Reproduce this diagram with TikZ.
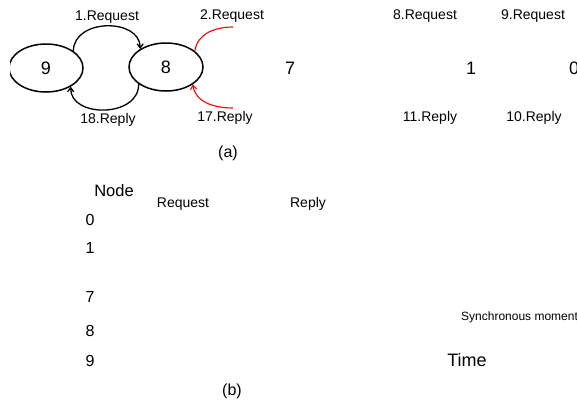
\documentclass[tikz,border=0pt]{standalone}
\usepackage{fontspec}
\setmainfont{Liberation Sans}
\usetikzlibrary{shapes.geometric,arrows.meta}

\tikzset{
  lbl/.style={inner sep=0pt, font=\fontsize{14}{16}\selectfont},
  big/.style={inner sep=0pt, font=\fontsize{18}{20}\selectfont},
  rowlbl/.style={inner sep=0pt, font=\fontsize{16}{18}\selectfont},
  subcap/.style={inner sep=0pt, font=\fontsize{16}{18}\selectfont},
  peer/.style={ellipse, draw, line width=1.5pt, minimum width=74pt, minimum height=48pt,
    inner sep=0pt, font=\fontsize{18}{20}\selectfont},
  msg/.style={line width=1.3pt, -{Straight Barb[length=4pt,width=6pt]}},
  relay/.style={red, line width=1.1pt},
}

\begin{document}
\begin{tikzpicture}[x=1pt, y=-1pt]
  \clip (0,0) rectangle (577,402);
  \fill[white] (0,0) rectangle (577,402);

  % (a) message flow along the chain 9 - 8 - 7 - 1 - 0
  \begin{scope}
    \clip (10,0) rectangle (577,402);
    \node[peer] (n9) at (46,68) {9};
  \end{scope}
  \node[peer] (n8) at (166,67) {8};
  \node[big] (n7) at (290,68) {7};
  \node[big] (n1) at (471,68) {1};
  \node[big] (n0) at (574,68) {0};

  \draw[msg] (n9.32) .. controls (74,18) and (140,18) .. (n8.145);
  \draw[msg] (n8.212) .. controls (139,118) and (70,118) .. (n9.-37);

  \coordinate (rq) at (233,27);
  \coordinate (rp) at (233,108);
  \draw[relay] (n8.29) to[out=82,in=180] (rq);
  \draw[relay, -{Straight Barb[length=4pt,width=6pt]}] (rp) to[out=180,in=-82] (n8.-33);

  \node[lbl] (t1) at (107,17) {1.Request};
  \node[lbl] (t2) at (232,16) {2.Request};
  \node[lbl] (t18) at (108,120) {18.Reply};
  \node[lbl] (t17) at (225,118) {17.Reply};
  \node[lbl] (t8) at (425,16) {8.Request};
  \node[lbl] (t9) at (533,16) {9.Request};
  \node[lbl] (t11) at (430,118) {11.Reply};
  \node[lbl] (t10) at (534,118) {10.Reply};
  \node[subcap] (capa) at (228,153) {(a)};

  % (b) timing chart labels
  \node[inner sep=0pt, font=\fontsize{16.5}{18}\selectfont] (hdr) at (114,191) {Node};
  \node[lbl] (hreq) at (183,204) {Request};
  \node[lbl] (hrep) at (308,204) {Reply};
  \node[rowlbl] (r0) at (90,220) {0};
  \node[rowlbl] (r1) at (90,248) {1};
  \node[rowlbl] (r7) at (90,297) {7};
  \node[rowlbl] (r8) at (90,331) {8};
  \node[rowlbl] (r9) at (90,361) {9};
  \node[inner sep=0pt, anchor=west, font=\fontsize{12}{13}\selectfont] (sync) at (461,317) {Synchronous moment};
  \node[big] (time) at (467,360) {Time};
  \node[subcap] (capb) at (232,391) {(b)};
\end{tikzpicture}
\end{document}
